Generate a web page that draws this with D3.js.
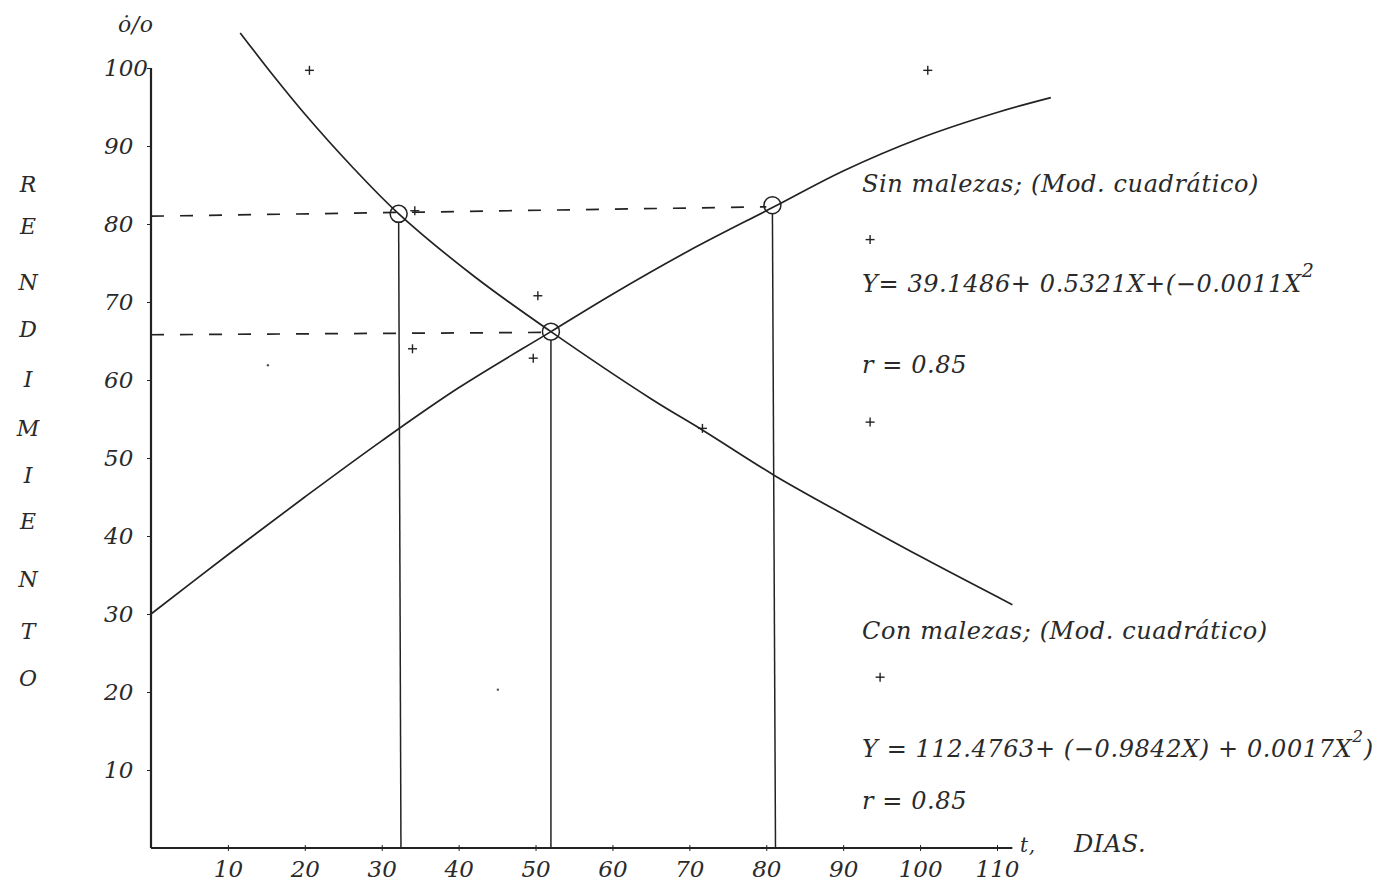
<!DOCTYPE html>
<html>
<head>
<meta charset="utf-8">
<script src="https://cdn.jsdelivr.net/npm/d3@7"></script>
<style>
  html, body { margin: 0; padding: 0; background: #fff; }
  svg { display: block; }
  text { font-family: "DejaVu Serif", serif; font-style: italic; fill: #2a2a2a; }
</style>
</head>
<body>
<svg id="chart" width="1387" height="887"></svg>
<script>
// ---- data ----
const xTicks = [10, 20, 30, 40, 50, 60, 70, 80, 90, 100, 110];
const yTicks = [10, 20, 30, 40, 50, 60, 70, 80, 90, 100];

// "Sin malezas" fitted curve (days, % yield)
const sinDias   = [0, 10, 20, 30, 40, 52, 60, 70, 81, 90, 100, 110, 117];
const sinRend   = [30, 37.6, 45, 52.2, 59, 66.2, 71, 76.6, 82.2, 86.8, 91, 94.3, 96.2];

// "Con malezas" fitted curve
const conDias   = [11.6, 16, 20, 26, 32, 42, 52, 65, 72, 81, 90, 100, 112];
const conRend   = [104.5, 98.9, 94.1, 87.5, 81.5, 73.3, 66.2, 57.6, 53.4, 47.8, 42.8, 37.4, 31.2];

// observed points (+)
const obsDias   = [20.6, 101, 34.3, 93.5, 50.3, 34, 49.7, 71.7, 93.5, 94.8];
const obsRend   = [99.7, 99.7, 81.7, 78, 70.8, 64, 62.8, 53.8, 54.6, 21.9];

// faint dots
const dotDias   = [15.2, 45.1];
const dotRend   = [61.9, 20.3];

// marked points (circles) and their reference lines
const markDias  = [32.2, 52.0, 80.8];
const markRend  = [81.3, 66.2, 82.4];
const dropDias  = [32.5, 52.0, 81.2];
const guideFromRend = [81.0, 65.8];   // dashed lines start at the Y axis
const guideToDias   = [80.0, 51.0];
const guideToRend   = [82.2, 66.1];

const yLetters = ["R", "E", "N", "D", "I", "M", "I", "E", "N", "T", "O"];

// ---- drawing ----
const svg = d3.select("#chart");
const x = d3.scaleLinear().domain([0, 110]).range([151, 997]);
const y = d3.scaleLinear().domain([0, 100]).range([848, 68]);
const ink = "#222";

// axes
const xAxis = d3.axisBottom(x).tickValues(xTicks).tickSize(4).tickFormat(d3.format("d"));
const gx = svg.append("g").attr("transform", `translate(0,${y(0)})`).call(xAxis);
gx.select(".domain").remove();
gx.selectAll(".tick line").attr("stroke", ink).attr("y1", -3).attr("y2", 3);
gx.selectAll(".tick text").attr("y", 13).attr("dy", "0.71em")
  .style("font-size", "23px").style("font-family", "DejaVu Serif").style("font-style", "italic").attr("fill", "#2a2a2a");
svg.append("line").attr("x1", x(0)).attr("x2", x(112)).attr("y1", y(0)).attr("y2", y(0))
  .attr("stroke", ink).attr("stroke-width", 2);

const yAxis = d3.axisLeft(y).tickValues(yTicks).tickSize(4).tickFormat(d3.format("d"));
const gy = svg.append("g").attr("transform", `translate(${x(0)},0)`).call(yAxis);
gy.select(".domain").remove();
gy.selectAll(".tick line").attr("stroke", ink);
gy.selectAll(".tick text").attr("text-anchor", "start").attr("x", 104 - x(0))
  .style("font-size", "23px").style("font-family", "DejaVu Serif").style("font-style", "italic").attr("fill", "#2a2a2a");
svg.append("line").attr("x1", x(0)).attr("x2", x(0)).attr("y1", y(0)).attr("y2", y(100))
  .attr("stroke", ink).attr("stroke-width", 2.2);

// curves
const line = d3.line().x(d => x(d[0])).y(d => y(d[1])).curve(d3.curveCatmullRom);
svg.append("path").datum(d3.zip(sinDias, sinRend)).attr("d", line)
  .attr("fill", "none").attr("stroke", ink).attr("stroke-width", 1.7);
svg.append("path").datum(d3.zip(conDias, conRend)).attr("d", line)
  .attr("fill", "none").attr("stroke", ink).attr("stroke-width", 1.7);

// dashed guide lines
guideFromRend.forEach((v, i) => {
  svg.append("line")
    .attr("x1", x(0)).attr("y1", y(v))
    .attr("x2", x(guideToDias[i])).attr("y2", y(guideToRend[i]))
    .attr("stroke", ink).attr("stroke-width", 1.7).attr("stroke-dasharray", "13,16");
});

// vertical drop lines
dropDias.forEach((d, i) => {
  svg.append("line")
    .attr("x1", x(markDias[i])).attr("y1", y(markRend[i]) + 8)
    .attr("x2", x(d)).attr("y2", y(0))
    .attr("stroke", ink).attr("stroke-width", 1.5);
});

// circles
svg.selectAll("circle.mark").data(d3.zip(markDias, markRend)).join("circle")
  .attr("class", "mark")
  .attr("cx", d => x(d[0])).attr("cy", d => y(d[1])).attr("r", 8.5)
  .attr("fill", "none").attr("stroke", ink).attr("stroke-width", 1.5);

// observed + marks
svg.selectAll("g.obs").data(d3.zip(obsDias, obsRend)).join("g").attr("class", "obs")
  .attr("transform", d => `translate(${x(d[0])},${y(d[1])})`)
  .each(function () {
    const g = d3.select(this);
    g.append("line").attr("x1", -4.5).attr("x2", 4.5).attr("stroke", ink).attr("stroke-width", 1.4);
    g.append("line").attr("y1", -4.5).attr("y2", 4.5).attr("stroke", ink).attr("stroke-width", 1.4);
  });
svg.selectAll("circle.dot").data(d3.zip(dotDias, dotRend)).join("circle").attr("class", "dot")
  .attr("cx", d => x(d[0])).attr("cy", d => y(d[1])).attr("r", 1.2).attr("fill", "#555");

// text annotations
const t = (xx, yy, s, size) => svg.append("text").attr("x", xx).attr("y", yy)
  .style("font-size", (size || 24) + "px").style("letter-spacing", "0.6px").text(s);

t(118, 32, "ȯ/o", 22);
yLetters.forEach((L, i) => {
  svg.append("text").attr("x", 28).attr("y", [192, 234, 290, 337, 387, 436, 483, 529, 587, 639, 686][i])
    .attr("text-anchor", "middle").style("font-size", "22px").text(L);
});

t(862, 192, "Sin malezas;  (Mod. cuadrático)");
const eq1 = t(862, 292, "Y=  39.1486+ 0.5321X+(−0.0011X");
eq1.append("tspan").attr("dy", -15).style("font-size", "19px").text("2");
t(862, 373, "r =  0.85");

t(862, 639, "Con malezas;  (Mod. cuadrático)");
const eq2 = t(862, 757, "Y = 112.4763+ (−0.9842X) + 0.0017X");
eq2.append("tspan").attr("dy", -15).style("font-size", "17px").text("2");
eq2.append("tspan").attr("dy", 15).text(")");
t(862, 809, "r  =  0.85");
t(1020, 852, "t,", 20).attr("fill", "#888");
t(1074, 852, "DIAS.");
</script>
</body>
</html>
